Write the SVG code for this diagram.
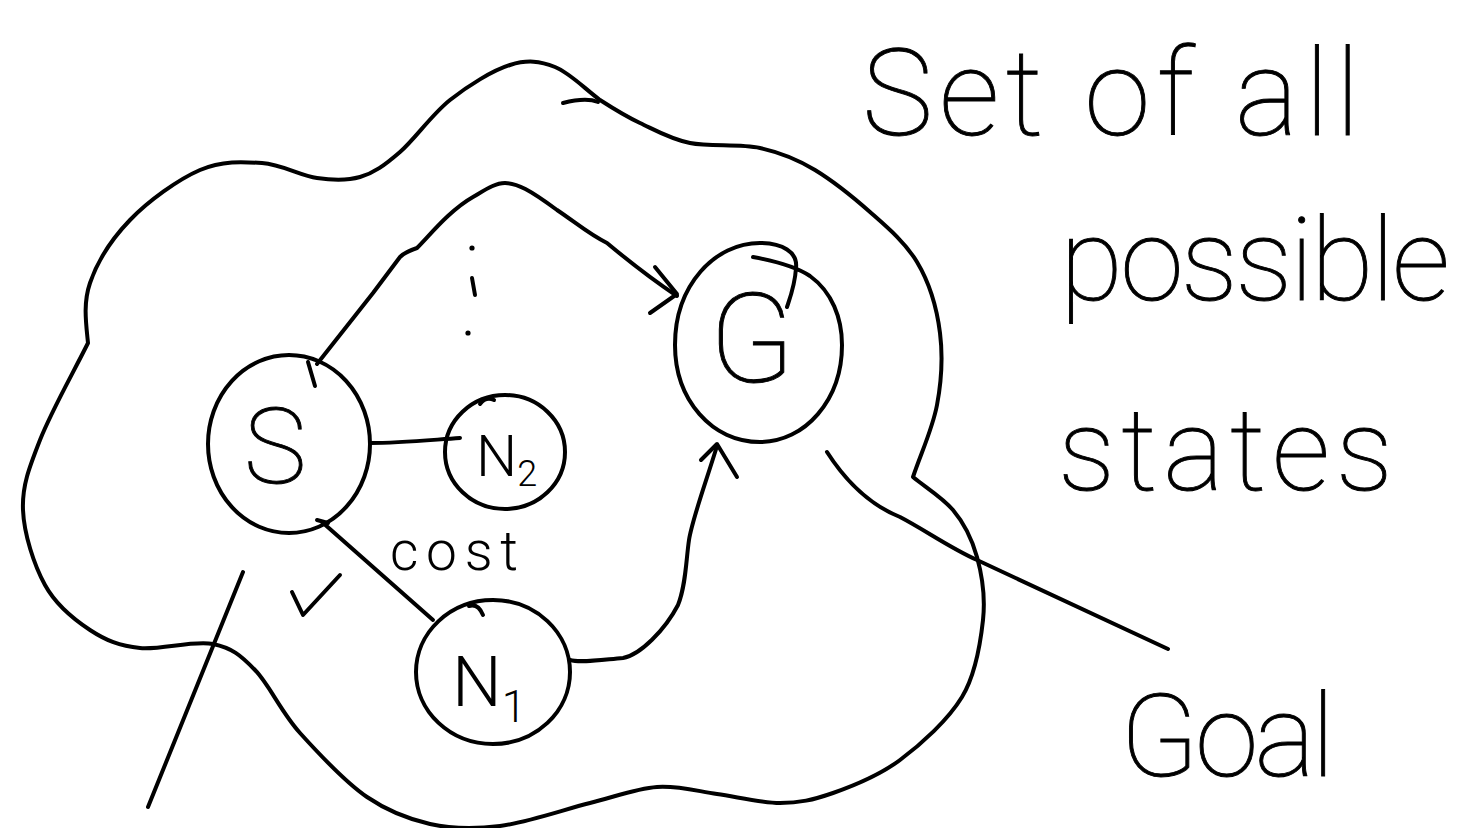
<svg xmlns="http://www.w3.org/2000/svg" width="1476" height="828" viewBox="0 0 1476 828">
  <style>
    .ink { fill: none; stroke: #000; stroke-width: 4; stroke-linecap: round; stroke-linejoin: round; }
    .hand { font-family: Roboto, "Liberation Sans", sans-serif; font-weight: 100; fill: #000; stroke: #000; stroke-width: 0.9; }
    .label { font-family: Roboto, "Liberation Sans", sans-serif; font-weight: 300; fill: #000; }
  </style>
  <rect width="1476" height="828" fill="#fff"/>

  <!-- state space boundary -->
  <g id="state-space">
    <path class="ink" d="M600,100 C614,109 625,116 640,123 S670,139 690,143 S739,143.5 760,148 S797,159 815,170 S853,197 870,212 S905,242 917,262 S937,309 940,333 S941.5,381 937,405 S921,453 913,477 C925,487 942,497 953,510 S972,539 977,557 S985.5,597 983,620 S976,674 962,697 S921.5,744 900,760 S853,786 833,793 S799,803 780,803 S737.5,797 717,794 S678,785.5 657,787 S616,796.5 590,803 S527,822.5 500,826 S452,829 430,824 S389,812 367,797 S319,754 300,733 S269.5,685 255,670 S232,648 213,644 S160.5,650 140,648 S106,640.5 90,630 S56,605 45,585 S24,534 23,510 S29,468 40,440 S72,375 88,343 C86,323 83,303.5 90,283 S111.7,239 130,220 S178,179.5 200,170 S242.5,161.7 262,163 S300.7,175.7 317,178 S346,181 360,177 S385,165 400,152 S431.7,114.5 450,100 S492.5,70.5 510,65 S540,61 555,67 S585,89 600,100"/>
    <path class="ink" d="M563,103 C575,100 588,98 598,102"/>
  </g>

  <!-- start state -->
  <g id="node-s">
    <ellipse class="ink" cx="289" cy="444" rx="81" ry="89"/>
    <path class="ink" d="M308,362 L315,386"/>
    <text class="hand" x="275" y="483" font-size="106" text-anchor="middle">S</text>
  </g>

  <!-- intermediate state N2 -->
  <g id="node-n2">
    <ellipse class="ink" cx="505" cy="452" rx="60" ry="57"/>
    <path class="ink" d="M480,404 Q486,396 494,400"/>
    <text class="label" x="476" y="476" font-size="58">N<tspan font-size="36" dy="10">2</tspan></text>
  </g>

  <!-- intermediate state N1 -->
  <g id="node-n1">
    <ellipse class="ink" cx="493" cy="672" rx="77" ry="72"/>
    <path class="ink" d="M469,606 Q478,603 483,615"/>
    <text class="label" x="452" y="706" font-size="70">N<tspan font-size="44" dy="16">1</tspan></text>
  </g>

  <!-- goal state -->
  <g id="node-g">
    <path class="ink" d="M753,257 C775,261 795,266 810,276 C832,292 842,318 842,345 C842,400 805,442 760,442 C712,442 675,400 675,345 C675,285 715,243 760,243 C782,243 798,252 796,268 C795,285 790,298 787,307"/>
    <text class="hand" x="752" y="382" font-size="125" text-anchor="middle">G</text>
  </g>

  <!-- edges between states -->
  <g id="connectors">
    <path class="ink" d="M317,364 L373,293 L400,257 Q405,252 417,248 C430,235 450,210 473,197 C485,190 495,183 505,183 C517,183 530,190 557,210 C575,222 590,235 607,243 C625,258 650,278 677,296"/>
    <path class="ink" d="M655,267 L677,294 L650,313"/>
    <path class="ink" d="M370,443 C400,443 430,440 460,438"/>
    <path class="ink" d="M317,520 L328,523"/>
    <path class="ink" d="M322,522 L433,620"/>
    <path class="ink" d="M570,660 C580,663 600,660 623,658 C640,655 665,630 678,605 C686,585 686,560 689,540 C692,520 705,485 717,446"/>
    <path class="ink" d="M701,460 L717,444 L737,477"/>
    <!-- elided paths -->
    <circle cx="472" cy="248" r="2.6" fill="#000"/>
    <path class="ink" d="M472,278 L475,295"/>
    <circle cx="468" cy="333" r="2.6" fill="#000"/>
  </g>

  <!-- annotations -->
  <g id="annotations">
    <text class="label" x="390" y="570" font-size="55" textLength="128" lengthAdjust="spacing">cost</text>
    <path class="ink" d="M292,592 L303,615 L340,575"/>
    <path class="ink" d="M243,572 L148,807"/>
    <path class="ink" d="M827,452 C845,480 870,505 900,517 C925,530 950,548 977,560 L1168,649"/>
    <text class="hand" x="862" y="135" font-size="120" textLength="498" lengthAdjust="spacing">Set of all</text>
    <text class="hand" x="1060" y="300" font-size="115" textLength="390" lengthAdjust="spacing">possible</text>
    <text class="hand" x="1058" y="490" font-size="115" textLength="335" lengthAdjust="spacing">states</text>
    <text class="hand" x="1120" y="776" font-size="115" textLength="215" lengthAdjust="spacing">Goal</text>
  </g>
</svg>
